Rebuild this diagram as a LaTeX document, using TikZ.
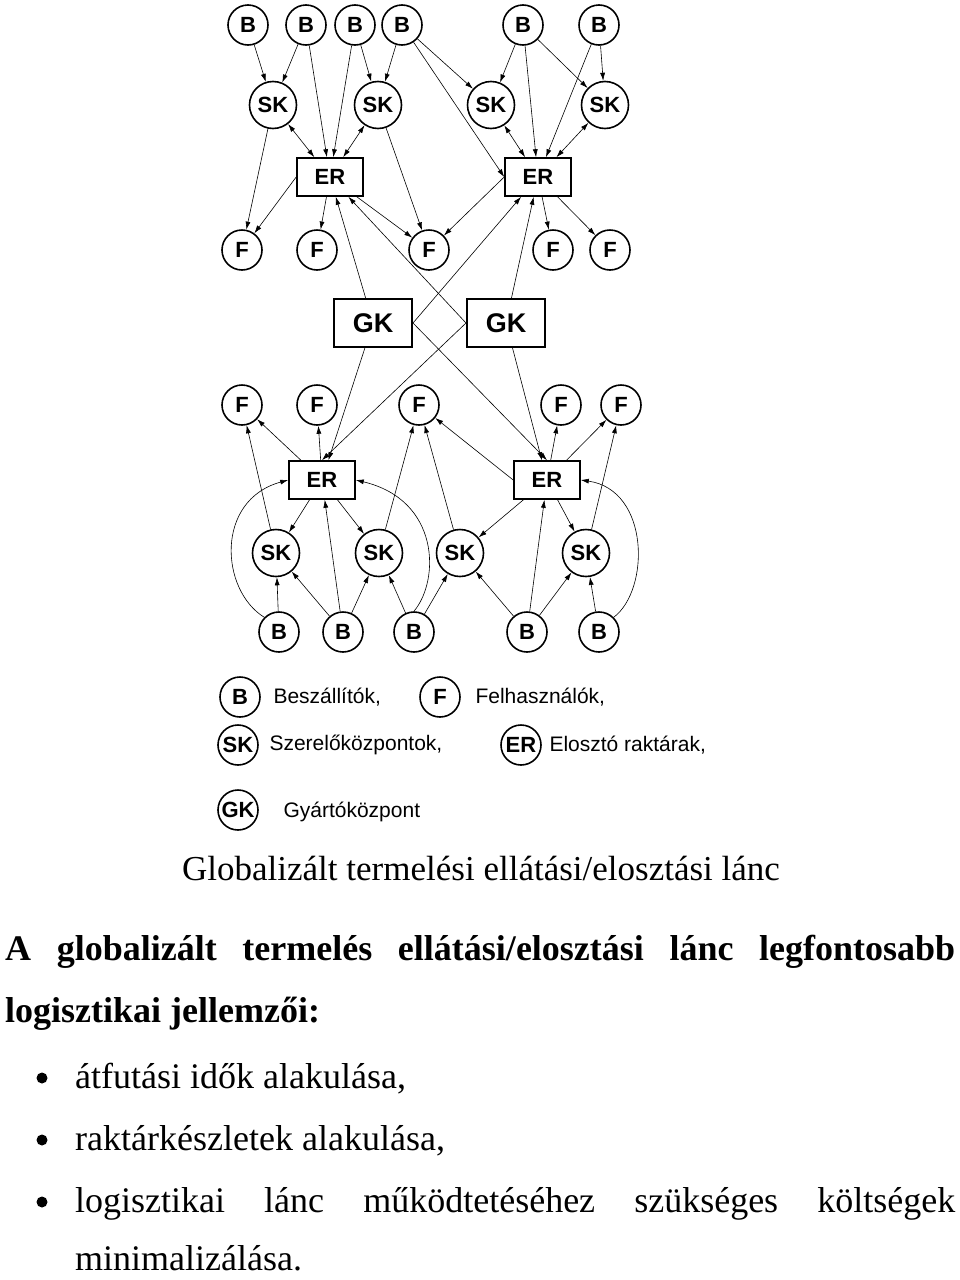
\documentclass[tikz,border=0pt]{standalone}
\usepackage{fontspec}
\setmainfont{Liberation Serif}
\newfontfamily\nodefont{Liberation Sans}
\usetikzlibrary{arrows.meta}
\begin{document}
\begin{tikzpicture}[x=1pt,y=-1pt,
 c/.style={circle,draw,line width=1.6pt,minimum size=40pt,inner sep=0pt,font=\nodefont\bfseries\fontsize{22}{22}\selectfont},
 cs/.style={c,minimum size=47pt},
 bx/.style={draw,line width=1.6pt,minimum width=66pt,minimum height=38pt,font=\nodefont\bfseries\fontsize{22}{22}\selectfont},
 gk/.style={draw,line width=2pt,minimum width=78pt,minimum height=48pt,font=\nodefont\bfseries\fontsize{27}{27}\selectfont},
 a/.style={-{Latex[length=8pt,width=5pt]},line width=0.6pt},
 aa/.style={{Latex[length=8pt,width=5pt]}-{Latex[length=8pt,width=5pt]},line width=0.6pt},
 lg/.style={font=\nodefont\fontsize{21}{21}\selectfont,anchor=west}]
\useasboundingbox (0,0) rectangle (960,1280);
% top
\foreach \n/\x in {1/248,2/306,3/355,4/402,5/523,6/599}{\node[c] (tb\n) at (\x,25) {B};}
\foreach \n/\x in {1/273,2/378,3/491,4/605}{\node[cs] (ts\n) at (\x,105) {SK};}
\node[bx] (te1) at (330,177) {ER};
\node[bx] (te2) at (538,177) {ER};
\foreach \n/\x in {1/242,2/317,3/429,4/553,5/610}{\node[c] (tf\n) at (\x,250) {F};}
\node[gk] (g1) at (373,323) {GK};
\node[gk] (g2) at (506,323) {GK};
\foreach \n/\x in {1/242,2/317,3/419,4/561,5/621}{\node[c] (bf\n) at (\x,405) {F};}
\node[bx] (be1) at (322,480) {ER};
\node[bx] (be2) at (547,480) {ER};
\foreach \n/\x in {1/276,2/379,3/460,4/586}{\node[cs] (bs\n) at (\x,553) {SK};}
\foreach \n/\x in {1/279,2/343,3/414,4/527,5/599}{\node[c] (bb\n) at (\x,632) {B};}
% top edges
\draw[a] (tb1)--(ts1); \draw[a] (tb2)--(ts1); \draw[a] (tb2)--(te1);
\draw[a] (tb3)--(te1); \draw[a] (tb3)--(ts2); \draw[a] (tb4)--(ts2);
\draw[a] (tb4)--(ts3); \draw[a] (tb4)--(te2.west); \draw[a] (tb5)--(ts3);
\draw[a] (tb5)--(te2); \draw[a] (tb5)--(ts4); \draw[a] (tb6)--(te2); \draw[a] (tb6)--(ts4);
\draw[aa] (ts1)--(te1); \draw[aa] (ts2)--(te1); \draw[aa] (ts3)--(te2); \draw[aa] (ts4)--(te2);
\draw[a] (ts1)--(tf1); \draw[a] (te1.west)--(tf1); \draw[a] (te1)--(tf2);
\draw[a] (ts2)--(tf3); \draw[a] (te1)--(tf3);
\draw[a] (te2.west)--(tf3); \draw[a] (te2)--(tf4); \draw[a] (te2)--(tf5);
\draw[a] (g1)--(te1); \draw[a] (g2.west)--(te1); \draw[a] (g1.east)--(te2); \draw[a] (g2)--(te2);
% bottom edges
\draw[a] (g1)--(be1); \draw[a] (g2.west)--(be1.north); \draw[a] (g1.east)--(be2.north); \draw[a] (g2)--(be2);
\draw[a] (be1)--(bf1); \draw[a] (be1)--(bf2); \draw[a] (bs1)--(bf1);
\draw[a] (bs2)--(bf3); \draw[a] (bs3)--(bf3); \draw[a] (be2.west)--(bf3);
\draw[a] (be2)--(bf4); \draw[a] (be2)--(bf5); \draw[a] (bs4)--(bf5);
\draw[a] (be1)--(bs1); \draw[a] (be1)--(bs2); \draw[a] (be2)--(bs3); \draw[a] (be2)--(bs4);
\draw[a] (bb1)--(bs1); \draw[a] (bb2)--(bs1); \draw[a] (bb2)--(be1); \draw[a] (bb2)--(bs2);
\draw[a] (bb3)--(bs2); \draw[a] (bb3)--(bs3); \draw[a] (bb4)--(bs3); \draw[a] (bb4)--(be2); \draw[a] (bb4)--(bs4);
\draw[a] (bb5)--(bs4);
\draw[a] (bb1.north west) .. controls (220,590) and (215,500) .. (be1.west);
\draw[a] (bb3.north) .. controls (440,580) and (440,500) .. (be1.east);
\draw[a] (bb5.north east) .. controls (650,590) and (650,490) .. (be2.east);
% legend
\node[c] (lb) at (240,697) {B}; \node[lg] (lbt) at (270,697) {Beszállítók,};
\node[c] (lf) at (440,697) {F}; \node[lg] (lft) at (472,697) {Felhasználók,};
\node[c] (ls) at (238,745) {SK}; \node[lg] (lst) at (266,745) {Szerelőközpontok,};
\node[c] (le) at (521,745) {ER}; \node[lg] (let) at (546,745) {Elosztó raktárak,};
\node[c] (lg1) at (238,810) {GK}; \node[lg] (lgt) at (280,812) {Gyártóközpont};
\node[font=\fontsize{35}{35}\selectfont] (cap) at (481,868) {Globalizált termelési ellátási/elosztási lánc};
% text
\begin{scope}[every node/.style={anchor=base west,inner sep=0pt,font=\fontsize{36}{36}\selectfont}]
\node (t1) at (5,960) {\bfseries\makebox[950pt][s]{A globalizált termelés ellátási/elosztási lánc legfontosabb}};
\node (t2) at (5,1022) {\bfseries logisztikai jellemzői:};
\node (t3) at (75,1088) {átfutási idők alakulása,};
\node (t4) at (75,1150) {raktárkészletek alakulása,};
\node (t5) at (75,1212) {\makebox[880pt][s]{logisztikai lánc működtetéséhez szükséges költségek}};
\node (t6) at (75,1270) {minimalizálása.};
\end{scope}
\foreach \y in {1078,1140,1202}{\fill (42,\y) circle (5.5pt);}
\end{tikzpicture}
\end{document}
